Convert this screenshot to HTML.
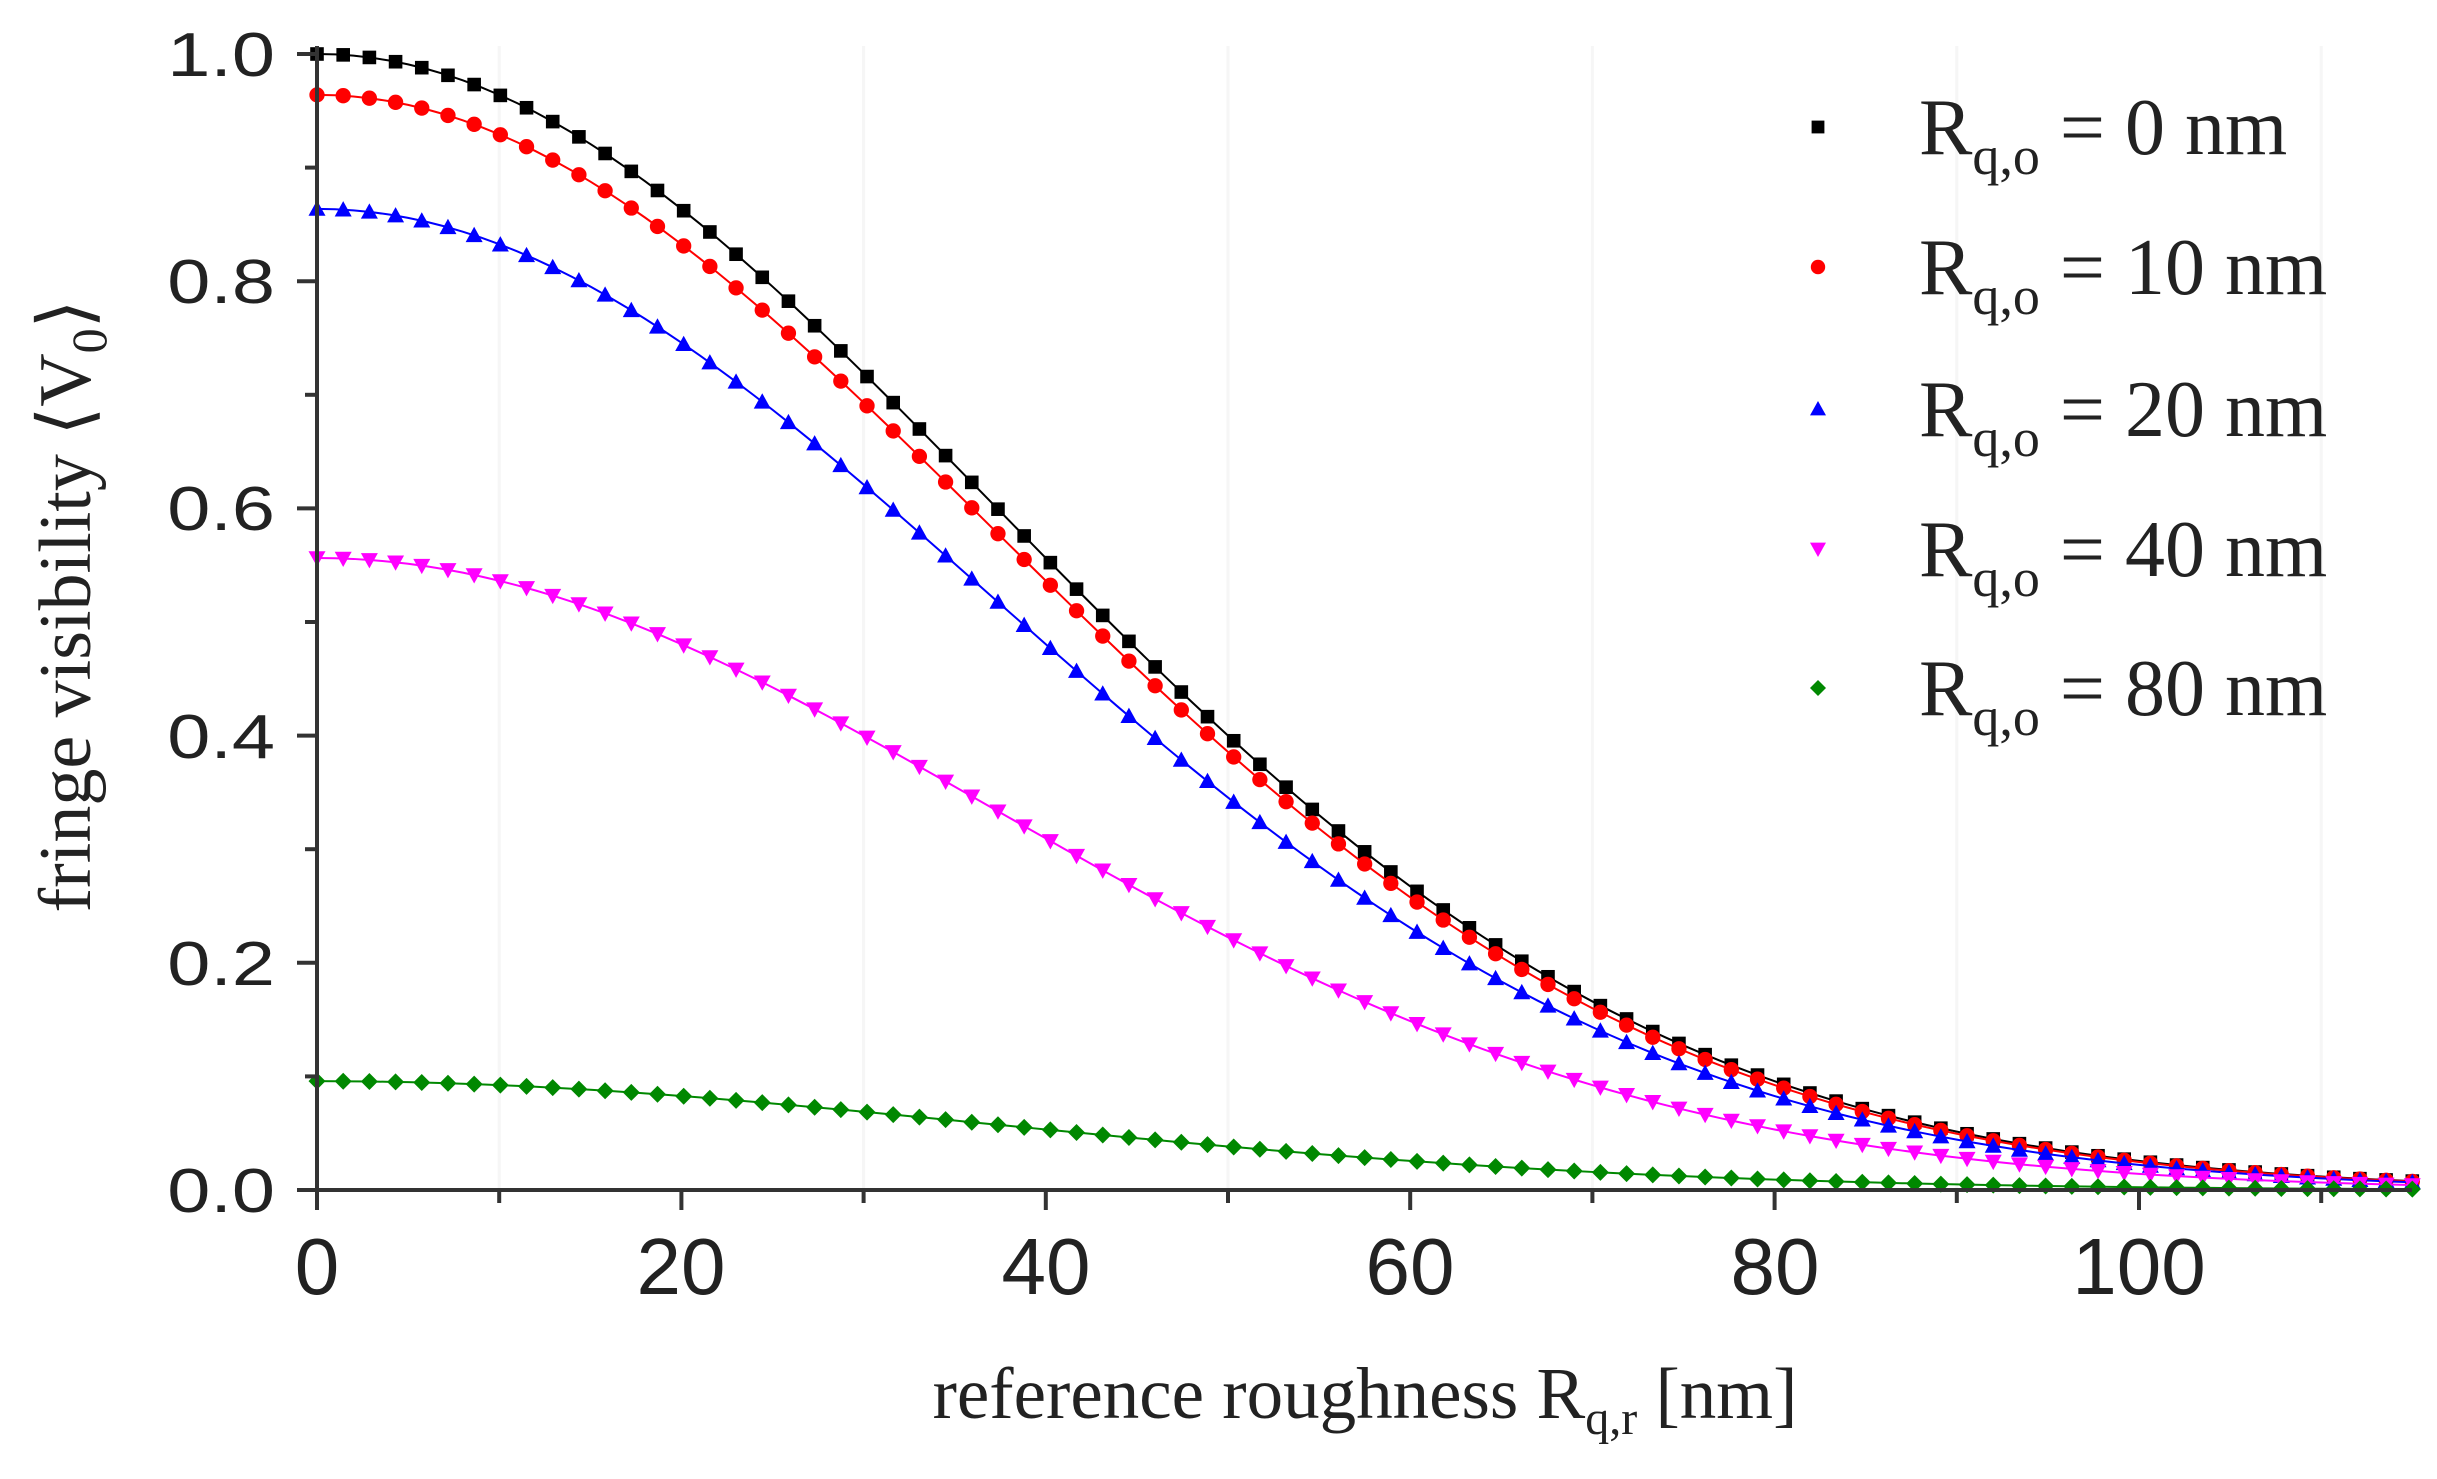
<!DOCTYPE html>
<html><head><meta charset="utf-8"><style>
html,body{margin:0;padding:0;background:#fff}
svg{display:block}
</style></head><body>
<svg id="s" xmlns="http://www.w3.org/2000/svg" width="2437" height="1479" viewBox="0 0 2437 1479">
<rect width="2437" height="1479" fill="#fff"/>
<g id="grid"></g>
<g id="data"></g>
<g stroke="#333" stroke-width="4" fill="none">
<line x1="317" y1="46" x2="317" y2="1204"/>
<line x1="300" y1="1190" x2="2412" y2="1190"/>
</g>
<g id="ticks" stroke="#333" stroke-width="4"></g>
<g font-family="Liberation Sans, sans-serif" font-size="62" fill="#222" text-anchor="end">
<text x="275" y="76" transform="translate(275 0) scale(1.25 1) translate(-275 0)">1.0</text>
<text x="275" y="303" transform="translate(275 0) scale(1.25 1) translate(-275 0)">0.8</text>
<text x="275" y="530" transform="translate(275 0) scale(1.25 1) translate(-275 0)">0.6</text>
<text x="275" y="758" transform="translate(275 0) scale(1.25 1) translate(-275 0)">0.4</text>
<text x="275" y="985" transform="translate(275 0) scale(1.25 1) translate(-275 0)">0.2</text>
<text x="275" y="1212" transform="translate(275 0) scale(1.25 1) translate(-275 0)">0.0</text>
</g>
<g font-family="Liberation Sans, sans-serif" font-size="80" fill="#222" text-anchor="middle">
<text x="317" y="1294">0</text>
<text x="681" y="1294">20</text>
<text x="1046" y="1294">40</text>
<text x="1410" y="1294">60</text>
<text x="1775" y="1294">80</text>
<text x="2139" y="1294">100</text>
</g>
<text x="1365" y="1418" font-family="Liberation Serif, serif" font-size="73" fill="#222" text-anchor="middle">reference roughness R<tspan font-size="48" dy="16">q,r</tspan><tspan dy="-16"> [nm]</tspan></text>
<text transform="translate(90 606) rotate(-90)" font-family="Liberation Serif, serif" font-size="74" fill="#222" text-anchor="middle">fringe visibility ⟨V<tspan font-size="50" dy="16">0</tspan><tspan dy="-16">⟩</tspan></text>
<g id="leg" font-family="Liberation Serif, serif" font-size="80" fill="#222"></g>
</svg>
<script>
var NS="http://www.w3.org/2000/svg";
function el(p,t,a){var e=document.createElementNS(NS,t);for(var k in a)e.setAttribute(k,a[k]);p.appendChild(e);return e;}
function X(v){return 317+v*18.22;}
function Y(v){return 1190-v*1136;}
var g=document.getElementById('grid');
for(var v=10;v<=110;v+=20){el(g,'line',{x1:X(v),x2:X(v),y1:46,y2:1190,stroke:'#f6f6f6','stroke-width':3});}
var t=document.getElementById('ticks');
for(var i=0;i<=10;i++){var y=Y(i/10);el(t,'line',{x1:i%2?305:297,x2:317,y1:y,y2:y});}
for(var v=0;v<=110;v+=10){el(t,'line',{x1:X(v),x2:X(v),y1:1190,y2:v%20?1203:1210});}
var series=[[0,'#000','sq'],[10,'#f00','ci'],[20,'#00f','tu'],[40,'#f0f','td'],[80,'#080','di']];
var a=3.665e-4;
function marker(p,type,x,y,c,s){
 if(type=='sq')el(p,'rect',{x:x-s*0.8,y:y-s*0.8,width:s*1.6,height:s*1.6,fill:c});
 else if(type=='ci')el(p,'circle',{cx:x,cy:y,r:s*0.9,fill:c});
 else if(type=='tu')el(p,'polygon',{points:(x-s)+','+(y+s*0.8)+' '+(x+s)+','+(y+s*0.8)+' '+x+','+(y-s),fill:c});
 else if(type=='td')el(p,'polygon',{points:(x-s)+','+(y-s*0.8)+' '+(x+s)+','+(y-s*0.8)+' '+x+','+(y+s),fill:c});
 else el(p,'polygon',{points:x+','+(y-s)+' '+(x+s)+','+y+' '+x+','+(y+s)+' '+(x-s)+','+y,fill:c});
}
var d=document.getElementById('data');
series.forEach(function(s){
 var pts=[];
 for(var r=0;r<=115;r+=1){pts.push(X(r)+','+Y(Math.exp(-a*(r*r+s[0]*s[0]))));}
 el(d,'polyline',{points:pts.join(' '),fill:'none',stroke:s[1],'stroke-width':2});
 for(var i=0;i<=80;i++){var r=i*115/80;marker(d,s[2],X(r),Y(Math.exp(-a*(r*r+s[0]*s[0]))),s[1],8.5);}
});
var L=document.getElementById('leg');
var ys=[127,267,409,549,688],labs=['0','10','20','40','80'];
series.forEach(function(s,i){
 marker(L,s[2],1818,ys[i],s[1],8);
 var tx=el(L,'text',{x:1919,y:ys[i]+27});
 tx.appendChild(document.createTextNode('R'));
 var a1=el(tx,'tspan',{'font-size':54,dy:20});a1.appendChild(document.createTextNode('q,o'));
 var a2=el(tx,'tspan',{dy:-20});a2.appendChild(document.createTextNode(' = '+labs[i]+' nm'));
});
</script>
</body></html>
